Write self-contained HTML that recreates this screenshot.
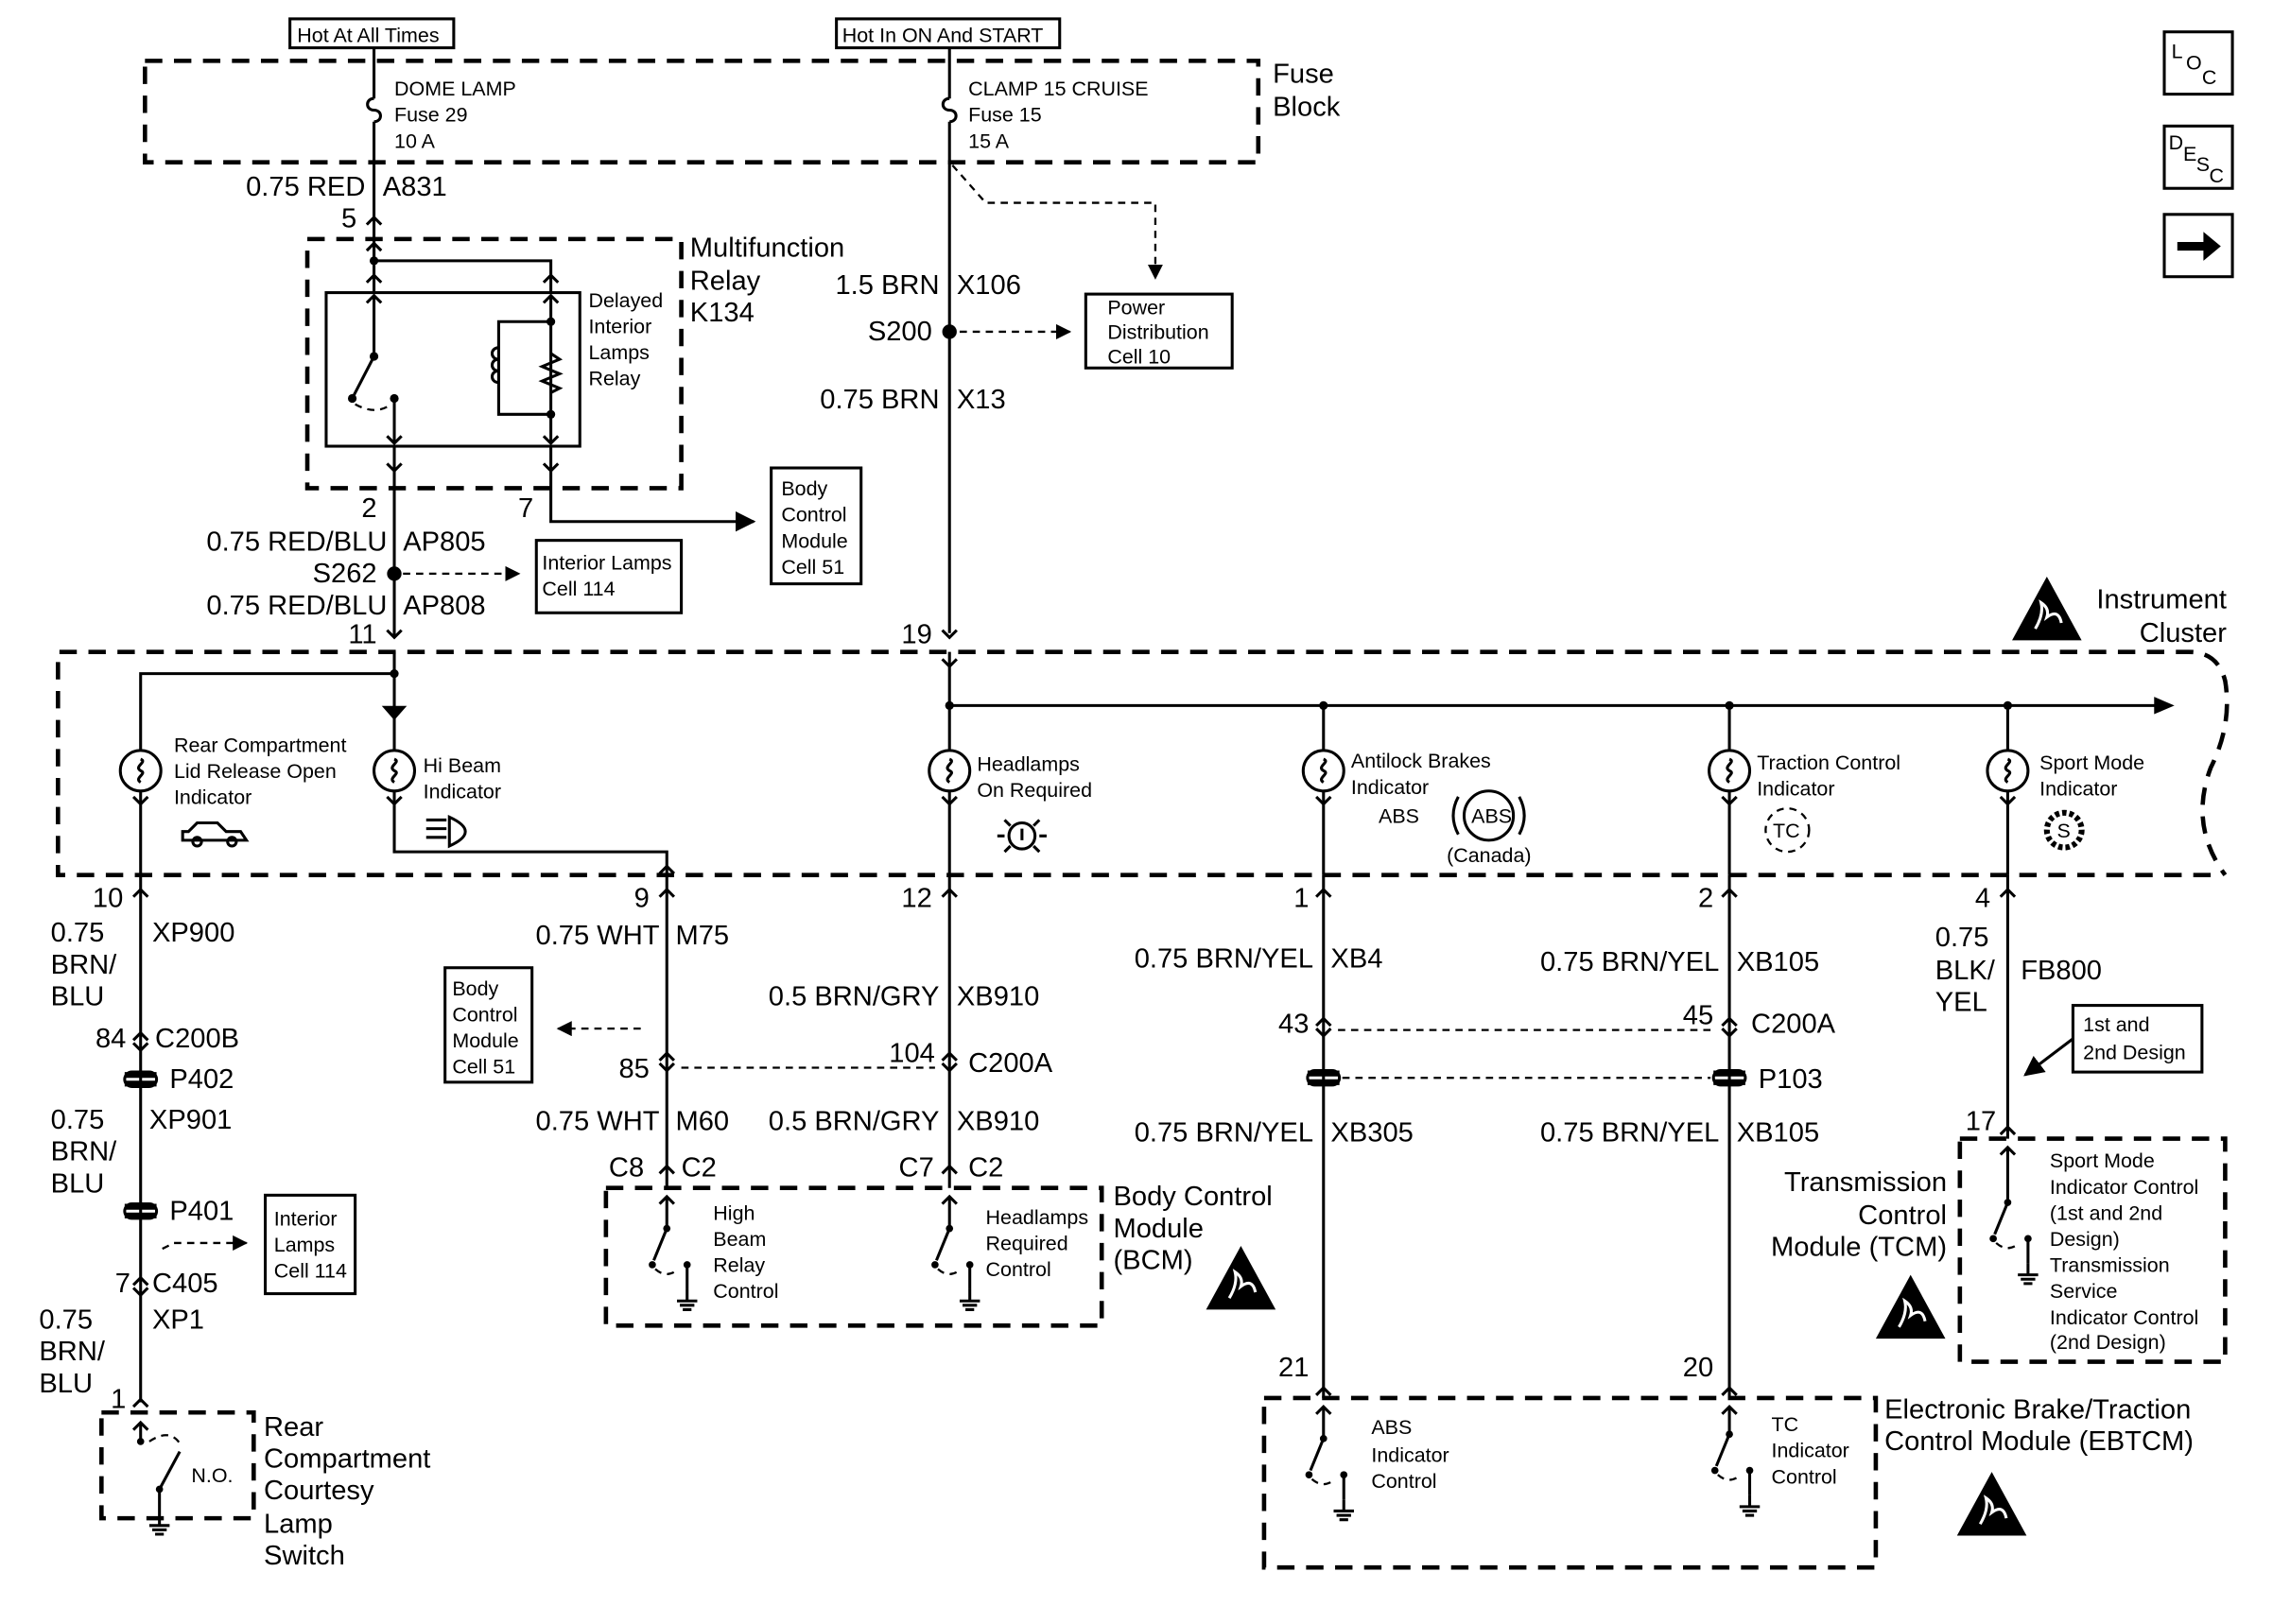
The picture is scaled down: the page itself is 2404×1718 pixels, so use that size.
<!DOCTYPE html>
<html><head><meta charset="utf-8"><style>
html,body{margin:0;padding:0;background:#fff}
svg{display:block}
text{font-family:"Liberation Sans",Arial,sans-serif;fill:#000}
.b{font-size:19px}.s{font-size:14px}
.l{stroke:#000;stroke-width:2;fill:none}
.d{stroke:#000;stroke-width:3;fill:none;stroke-dasharray:12,8}
.dl{stroke:#000;stroke-width:1.5;fill:none;stroke-dasharray:5,4}
.bx{stroke:#000;stroke-width:2;fill:#fff}
</style></head><body>
<svg width="2404" height="1718" viewBox="0 0 1568 1121" preserveAspectRatio="none" xmlns="http://www.w3.org/2000/svg">
<defs>
<marker id="ar" viewBox="0 0 10 10" refX="9" refY="5" markerWidth="7" markerHeight="7" orient="auto"><path d="M0,0L10,5L0,10z" fill="#000"/></marker>
<g id="up"><path d="M-5,5L0,0L5,5" class="l"/></g>
<g id="dn"><path d="M-5,-5L0,0L5,-5" class="l"/></g>
<g id="bulb"><circle r="14" class="bx"/><path d="M0,-8c5,2 -5,5 0,8c5,2 -5,5 0,8" class="l" stroke-width="1.5"/></g>
<g id="gnd"><path d="M0,0V8M-7,8H7M-5,11H5M-3,14H3" class="l" stroke-width="2"/></g>
<g id="esd"><path d="M-24,22L0,-22L24,22Z" fill="#000"/><path d="M-8,14q6,-10 4,-18q6,4 4,10q8,-6 10,4" stroke="#fff" stroke-width="2" fill="none"/></g>
<g id="conn"><path d="M-11,-3h22M-11,3h22" stroke="#000" stroke-width="4"/><rect x="-11" y="-5" width="22" height="10" rx="5" class="l" stroke-width="1.5"/></g>
</defs>

<rect x="1493" y="22" width="47" height="43" class="l"/><text x="1498" y="40" class="s">L</text><text x="1508" y="48" class="s">O</text><text x="1519" y="58" class="s">C</text>
<rect x="1493" y="87" width="47" height="43" class="l"/><text x="1496" y="103" class="s">D</text><text x="1506" y="111" class="s">E</text><text x="1515" y="118" class="s">S</text><text x="1524" y="126" class="s">C</text>
<rect x="1493" y="148" width="47" height="43" class="l"/><path d="M1502,170h22" stroke="#000" stroke-width="6"/><path d="M1520,160L1532,170L1520,180z" fill="#000"/>

<rect x="200" y="13" width="113" height="20" class="l"/><text x="205" y="29" class="s">Hot At All Times</text>
<rect x="577" y="13" width="154" height="20" class="l"/><text x="581" y="29" class="s">Hot In ON And START</text>
<rect x="100" y="42" width="768" height="70" class="d"/>
<text x="878" y="57" class="b">Fuse</text><text x="878" y="80" class="b">Block</text>
<path d="M258,33V68M258,84V180" class="l"/><path d="M258,68c-6,0 -6,8 0,8c6,0 6,8 0,8" class="l"/>
<text x="272" y="66" class="s">DOME LAMP</text><text x="272" y="84" class="s">Fuse 29</text><text x="272" y="102" class="s">10 A</text>
<path d="M655,33V68M655,84V437" class="l"/><path d="M655,68c-6,0 -6,8 0,8c6,0 6,8 0,8" class="l"/>
<text x="668" y="66" class="s">CLAMP 15 CRUISE</text><text x="668" y="84" class="s">Fuse 15</text><text x="668" y="102" class="s">15 A</text>
<text x="252" y="135" class="b" text-anchor="end">0.75 RED</text><text x="264" y="135" class="b">A831</text>
<text x="246" y="157" class="b" text-anchor="end">5</text><use href="#up" x="258" y="150"/>

<rect x="212" y="165" width="258" height="172" class="d"/>
<text x="476" y="177" class="b">Multifunction</text><text x="476" y="200" class="b">Relay</text><text x="476" y="222" class="b">K134</text>
<path d="M258,170V202M258,180H380V202" class="l"/><circle cx="258" cy="180" r="3"/>
<use href="#up" x="258" y="168"/><use href="#up" x="258" y="190"/><use href="#up" x="380" y="190"/>
<rect x="225" y="202" width="175" height="106" class="l" stroke-width="3"/>
<text x="406" y="212" class="s">Delayed</text><text x="406" y="230" class="s">Interior</text><text x="406" y="248" class="s">Lamps</text><text x="406" y="266" class="s">Relay</text>
<path d="M258,204V246L243,275" class="l"/><use href="#up" x="258" y="204"/><circle cx="258" cy="246" r="3"/><circle cx="243" cy="275" r="3"/>
<path d="M245,279q14,8 25,0" class="dl"/><circle cx="272" cy="275" r="3"/><path d="M272,275V306" class="l"/><use href="#dn" x="272" y="306"/>
<path d="M380,204V306M380,222H344V286H380" class="l"/><use href="#up" x="380" y="204"/><use href="#dn" x="380" y="306"/>
<circle cx="380" cy="222" r="3"/><circle cx="380" cy="286" r="3"/>
<path d="M344,240c-6,0 -6,8 0,8c-6,0 -6,8 0,8c-6,0 -6,8 0,8" class="l"/>
<path d="M380,244l6,4l-12,5l12,5l-12,5l12,5l-6,3" class="l"/>
<path d="M272,308V440M380,308V360H520" class="l" marker-end="url(#ar)"/>
<use href="#dn" x="272" y="325"/><use href="#dn" x="380" y="325"/>
<text x="260" y="357" class="b" text-anchor="end">2</text><text x="368" y="357" class="b" text-anchor="end">7</text>
<rect x="532" y="323" width="62" height="80" class="l"/>
<text x="539" y="342" class="s">Body</text><text x="539" y="360" class="s">Control</text><text x="539" y="378" class="s">Module</text><text x="539" y="396" class="s">Cell 51</text>
<text x="267" y="380" class="b" text-anchor="end">0.75 RED/BLU</text><text x="278" y="380" class="b">AP805</text>
<circle cx="272" cy="396" r="5"/><text x="260" y="402" class="b" text-anchor="end">S262</text>
<path d="M278,396H358" class="dl" marker-end="url(#ar)"/>
<rect x="370" y="373" width="100" height="50" class="l"/><text x="374" y="393" class="s">Interior Lamps</text><text x="374" y="411" class="s">Cell 114</text>
<text x="267" y="424" class="b" text-anchor="end">0.75 RED/BLU</text><text x="278" y="424" class="b">AP808</text>
<text x="260" y="444" class="b" text-anchor="end">11</text><use href="#dn" x="272" y="440"/>

<path d="M657,114L680,140H797V192" class="dl" marker-end="url(#ar)"/>
<text x="648" y="203" class="b" text-anchor="end">1.5 BRN</text><text x="660" y="203" class="b">X106</text>
<circle cx="655" cy="229" r="5"/><text x="643" y="235" class="b" text-anchor="end">S200</text>
<path d="M662,229H738" class="dl" marker-end="url(#ar)"/>
<rect x="749" y="203" width="101" height="51" class="l"/><text x="764" y="217" class="s">Power</text><text x="764" y="234" class="s">Distribution</text><text x="764" y="251" class="s">Cell 10</text>
<text x="648" y="282" class="b" text-anchor="end">0.75 BRN</text><text x="660" y="282" class="b">X13</text>
<text x="643" y="444" class="b" text-anchor="end">19</text><use href="#dn" x="655" y="440"/>

<path d="M1525,604H40V450H1510q20,0 25,20q5,30 -10,60q-15,40 10,74" class="d"/>
<use href="#esd" x="1412" y="420"/>
<text x="1536" y="420" class="b" text-anchor="end">Instrument</text><text x="1536" y="443" class="b" text-anchor="end">Cluster</text>
<path d="M272,450V518M97,518V465H272" class="l"/><circle cx="272" cy="465" r="3"/>
<path d="M265,488h14M265,488l7,8l7,-8z" fill="#000" stroke="#000" stroke-width="1.5"/>
<path d="M655,450V518M655,487H1492M913,487V518M1193,487V518M1385,487V518" class="l"/>
<path d="M1486,481L1500,487L1486,493z" fill="#000"/>
<circle cx="655" cy="487" r="3"/><circle cx="913" cy="487" r="3"/><circle cx="1193" cy="487" r="3"/><circle cx="1385" cy="487" r="3"/>
<use href="#dn" x="655" y="460"/>
<use href="#bulb" x="97" y="532"/><use href="#bulb" x="272" y="532"/><use href="#bulb" x="655" y="532"/><use href="#bulb" x="913" y="532"/><use href="#bulb" x="1193" y="532"/><use href="#bulb" x="1385" y="532"/>
<path d="M97,546V604M272,546V588H460V604M655,546V604M913,546V604M1193,546V604M1385,546V604" class="l"/>
<use href="#dn" x="97" y="555"/><use href="#dn" x="272" y="555"/><use href="#dn" x="655" y="555"/><use href="#dn" x="913" y="555"/><use href="#dn" x="1193" y="555"/><use href="#dn" x="1385" y="555"/>
<use href="#up" x="460" y="598"/>
<text x="120" y="519" class="s">Rear Compartment</text><text x="120" y="537" class="s">Lid Release Open</text><text x="120" y="555" class="s">Indicator</text>
<path d="M126,580h44l-4,-6h-10l-6,-6h-14l-6,6h-4z" class="l" stroke-width="1.5"/><circle cx="136" cy="581" r="3" class="l" stroke-width="1.5"/><circle cx="160" cy="581" r="3" class="l" stroke-width="1.5"/>
<text x="292" y="533" class="s">Hi Beam</text><text x="292" y="551" class="s">Indicator</text>
<path d="M294,566h14M294,572h14M294,578h14M310,564q22,10 0,20z" class="l" stroke-width="1.5"/>
<text x="674" y="532" class="s">Headlamps</text><text x="674" y="550" class="s">On Required</text>
<circle cx="705" cy="577" r="9" class="l" stroke-width="1.5"/><path d="M705,572v8M688,577h5M717,577h5M693,566l4,4M717,566l-4,4M693,588l4,-4M717,588l-4,-4" class="l" stroke-width="1.5"/>
<text x="932" y="530" class="s">Antilock Brakes</text><text x="932" y="548" class="s">Indicator</text><text x="951" y="568" class="s">ABS</text>
<circle cx="1027" cy="563" r="17" class="l" stroke-width="1.5"/><text x="1015" y="568" class="s">ABS</text>
<path d="M1006,550q-7,13 0,26M1048,550q7,13 0,26" class="l" stroke-width="1.5"/>
<text x="998" y="595" class="s">(Canada)</text>
<text x="1212" y="531" class="s">Traction Control</text><text x="1212" y="549" class="s">Indicator</text>
<circle cx="1233" cy="573" r="15" class="dl"/><text x="1223" y="578" class="s">TC</text>
<text x="1407" y="531" class="s">Sport Mode</text><text x="1407" y="549" class="s">Indicator</text>
<circle cx="1424" cy="573" r="12" fill="none" stroke="#000" stroke-width="4" stroke-dasharray="3,2"/><text x="1419" y="578" class="s">S</text>

<text x="85" y="626" class="b" text-anchor="end">10</text><use href="#up" x="97" y="614"/>
<text x="448" y="626" class="b" text-anchor="end">9</text><use href="#up" x="460" y="614"/>
<text x="643" y="626" class="b" text-anchor="end">12</text><use href="#up" x="655" y="614"/>
<text x="903" y="626" class="b" text-anchor="end">1</text><use href="#up" x="913" y="614"/>
<text x="1182" y="626" class="b" text-anchor="end">2</text><use href="#up" x="1193" y="614"/>
<text x="1373" y="626" class="b" text-anchor="end">4</text><use href="#up" x="1385" y="614"/>

<path d="M97,604V968" class="l"/>
<text x="35" y="650" class="b">0.75</text><text x="35" y="672" class="b">BRN/</text><text x="35" y="694" class="b">BLU</text><text x="105" y="650" class="b">XP900</text>
<text x="87" y="723" class="b" text-anchor="end">84</text><use href="#up" x="97" y="713"/><use href="#dn" x="97" y="725"/><text x="107" y="723" class="b">C200B</text>
<use href="#conn" x="97" y="745"/><text x="117" y="751" class="b">P402</text>
<text x="35" y="779" class="b">0.75</text><text x="35" y="801" class="b">BRN/</text><text x="35" y="823" class="b">BLU</text><text x="103" y="779" class="b">XP901</text>
<use href="#conn" x="97" y="836"/><text x="117" y="842" class="b">P401</text>
<path d="M112,862l8,-4H170" class="dl" marker-end="url(#ar)"/>
<rect x="183" y="825" width="62" height="68" class="l"/><text x="189" y="846" class="s">Interior</text><text x="189" y="864" class="s">Lamps</text><text x="189" y="882" class="s">Cell 114</text>
<text x="90" y="892" class="b" text-anchor="end">7</text><use href="#up" x="97" y="882"/><use href="#dn" x="97" y="894"/><text x="105" y="892" class="b">C405</text>
<text x="27" y="917" class="b">0.75</text><text x="27" y="939" class="b">BRN/</text><text x="27" y="961" class="b">BLU</text><text x="105" y="917" class="b">XP1</text>
<text x="87" y="972" class="b" text-anchor="end">1</text><use href="#up" x="97" y="966"/>
<rect x="70" y="975" width="105" height="73" class="d"/>
<use href="#up" x="97" y="982"/><path d="M97,982V995" class="l"/><circle cx="97" cy="995" r="2.5"/><path d="M103,995q15,-10 22,3" class="dl"/>
<circle cx="110" cy="1028" r="2.5"/><path d="M110,1028l14,-26" class="l"/><path d="M110,1028V1045" class="l"/><use href="#gnd" x="110" y="1045"/>
<text x="132" y="1023" class="s">N.O.</text>
<text x="182" y="991" class="b">Rear</text><text x="182" y="1013" class="b">Compartment</text><text x="182" y="1035" class="b">Courtesy</text><text x="182" y="1058" class="b">Lamp</text><text x="182" y="1080" class="b">Switch</text>

<path d="M460,604V820M655,604V820" class="l"/>
<text x="455" y="652" class="b" text-anchor="end">0.75 WHT</text><text x="466" y="652" class="b">M75</text>
<path d="M442,710H385" class="dl" marker-end="url(#ar)"/>
<rect x="307" y="668" width="60" height="79" class="l"/><text x="312" y="687" class="s">Body</text><text x="312" y="705" class="s">Control</text><text x="312" y="723" class="s">Module</text><text x="312" y="741" class="s">Cell 51</text>
<use href="#up" x="460" y="727"/><use href="#dn" x="460" y="739"/><text x="448" y="744" class="b" text-anchor="end">85</text>
<path d="M470,737H645" class="dl"/>
<text x="645" y="733" class="b" text-anchor="end">104</text><use href="#up" x="655" y="727"/><use href="#dn" x="655" y="739"/><text x="668" y="740" class="b">C200A</text>
<text x="648" y="694" class="b" text-anchor="end">0.5 BRN/GRY</text><text x="660" y="694" class="b">XB910</text>
<text x="455" y="780" class="b" text-anchor="end">0.75 WHT</text><text x="466" y="780" class="b">M60</text>
<text x="648" y="780" class="b" text-anchor="end">0.5 BRN/GRY</text><text x="660" y="780" class="b">XB910</text>
<text x="420" y="812" class="b">C8</text><text x="470" y="812" class="b">C2</text><text x="620" y="812" class="b">C7</text><text x="668" y="812" class="b">C2</text>
<use href="#up" x="460" y="805"/><use href="#up" x="655" y="805"/>
<rect x="418" y="820" width="342" height="95" class="d"/>
<use href="#up" x="460" y="826"/><g transform="translate(460,848)"><path d="M0,-22V0" class="l"/><circle r="2.5"/><path d="M0,0L-9,22" class="l"/><circle cx="-10" cy="25" r="2.5"/><path d="M-8,28q8,7 16,0" class="dl"/><circle cx="14" cy="25" r="2.5"/><path d="M14,25V42" class="l"/><use href="#gnd" x="14" y="42"/></g>
<use href="#up" x="655" y="826"/><g transform="translate(655,848)"><path d="M0,-22V0" class="l"/><circle r="2.5"/><path d="M0,0L-9,22" class="l"/><circle cx="-10" cy="25" r="2.5"/><path d="M-8,28q8,7 16,0" class="dl"/><circle cx="14" cy="25" r="2.5"/><path d="M14,25V42" class="l"/><use href="#gnd" x="14" y="42"/></g>
<text x="492" y="842" class="s">High</text><text x="492" y="860" class="s">Beam</text><text x="492" y="878" class="s">Relay</text><text x="492" y="896" class="s">Control</text>
<text x="680" y="845" class="s">Headlamps</text><text x="680" y="863" class="s">Required</text><text x="680" y="881" class="s">Control</text>
<text x="768" y="832" class="b">Body Control</text><text x="768" y="854" class="b">Module</text><text x="768" y="876" class="b">(BCM)</text>
<use href="#esd" x="856" y="882"/>

<path d="M913,604V965M1193,604V965" class="l"/>
<text x="906" y="668" class="b" text-anchor="end">0.75 BRN/YEL</text><text x="918" y="668" class="b">XB4</text>
<text x="1186" y="670" class="b" text-anchor="end">0.75 BRN/YEL</text><text x="1198" y="670" class="b">XB105</text>
<text x="903" y="713" class="b" text-anchor="end">43</text><use href="#up" x="913" y="703"/><use href="#dn" x="913" y="715"/>
<path d="M923,711H1183" class="dl"/>
<text x="1182" y="707" class="b" text-anchor="end">45</text><use href="#up" x="1193" y="703"/><use href="#dn" x="1193" y="715"/><text x="1208" y="713" class="b">C200A</text>
<use href="#conn" x="913" y="744"/><use href="#conn" x="1193" y="744"/><path d="M926,744H1180" class="dl"/><text x="1213" y="751" class="b">P103</text>
<text x="906" y="788" class="b" text-anchor="end">0.75 BRN/YEL</text><text x="918" y="788" class="b">XB305</text>
<text x="1186" y="788" class="b" text-anchor="end">0.75 BRN/YEL</text><text x="1198" y="788" class="b">XB105</text>
<text x="903" y="950" class="b" text-anchor="end">21</text><use href="#up" x="913" y="958"/>
<text x="1182" y="950" class="b" text-anchor="end">20</text><use href="#up" x="1193" y="958"/>
<rect x="872" y="965" width="422" height="117" class="d"/>
<use href="#up" x="913" y="971"/><g transform="translate(913,993)"><path d="M0,-22V0" class="l"/><circle r="2.5"/><path d="M0,0L-9,22" class="l"/><circle cx="-10" cy="25" r="2.5"/><path d="M-8,28q8,7 16,0" class="dl"/><circle cx="14" cy="25" r="2.5"/><path d="M14,25V42" class="l"/><use href="#gnd" x="14" y="42"/></g>
<use href="#up" x="1193" y="971"/><g transform="translate(1193,990)"><path d="M0,-19V0" class="l"/><circle r="2.5"/><path d="M0,0L-9,22" class="l"/><circle cx="-10" cy="25" r="2.5"/><path d="M-8,28q8,7 16,0" class="dl"/><circle cx="14" cy="25" r="2.5"/><path d="M14,25V42" class="l"/><use href="#gnd" x="14" y="42"/></g>
<text x="946" y="990" class="s">ABS</text><text x="946" y="1009" class="s">Indicator</text><text x="946" y="1027" class="s">Control</text>
<text x="1222" y="988" class="s">TC</text><text x="1222" y="1006" class="s">Indicator</text><text x="1222" y="1024" class="s">Control</text>
<text x="1300" y="979" class="b">Electronic Brake/Traction</text><text x="1300" y="1001" class="b">Control Module (EBTCM)</text>
<use href="#esd" x="1374" y="1038"/>

<path d="M1385,604V786" class="l"/>
<text x="1335" y="653" class="b">0.75</text><text x="1335" y="676" class="b">BLK/</text><text x="1335" y="698" class="b">YEL</text><text x="1394" y="676" class="b">FB800</text>
<rect x="1430" y="694" width="89" height="46" class="l"/><text x="1437" y="712" class="s">1st and</text><text x="1437" y="731" class="s">2nd Design</text>
<path d="M1430,717L1397,742" class="l" stroke-width="1.5" marker-end="url(#ar)"/>
<text x="1377" y="780" class="b" text-anchor="end">17</text><use href="#up" x="1385" y="778"/>
<rect x="1352" y="786" width="183" height="154" class="d"/>
<use href="#up" x="1385" y="792"/><g transform="translate(1385,830)"><path d="M0,-38V0" class="l"/><circle r="2.5"/><path d="M0,0L-9,22" class="l"/><circle cx="-10" cy="25" r="2.5"/><path d="M-8,28q8,7 16,0" class="dl"/><circle cx="14" cy="25" r="2.5"/><path d="M14,25V42" class="l"/><use href="#gnd" x="14" y="42"/></g>
<text x="1414" y="806" class="s">Sport Mode</text><text x="1414" y="824" class="s">Indicator Control</text><text x="1414" y="842" class="s">(1st and 2nd</text><text x="1414" y="860" class="s">Design)</text><text x="1414" y="878" class="s">Transmission</text><text x="1414" y="896" class="s">Service</text><text x="1414" y="914" class="s">Indicator Control</text><text x="1414" y="931" class="s">(2nd Design)</text>
<text x="1343" y="822" class="b" text-anchor="end">Transmission</text><text x="1343" y="845" class="b" text-anchor="end">Control</text><text x="1343" y="867" class="b" text-anchor="end">Module (TCM)</text>
<use href="#esd" x="1318" y="902"/>
</svg>
</body></html>
